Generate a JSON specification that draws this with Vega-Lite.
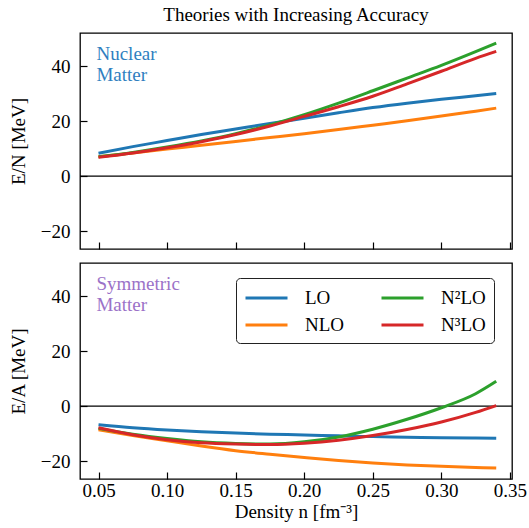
{
  "$schema": "https://vega.github.io/schema/vega-lite/v6.json",
  "background": "white",
  "padding": {"left": 8, "top": 5, "right": 10, "bottom": 5},
  "spacing": 11,
  "config": {
    "font": "Liberation Serif",
    "view": {"stroke": "black", "strokeWidth": 1.3},
    "axis": {"labelFont": "Liberation Serif", "titleFont": "Liberation Serif", "labelFontSize": 19, "titleFontSize": 19, "titleFontWeight": "normal", "labelColor": "black", "titleColor": "black", "tickColor": "black", "tickWidth": 1.2, "grid": false, "domain": false},
    "legend": {"labelFont": "Liberation Serif"},
    "title": {"font": "Liberation Serif"},
    "text": {"font": "Liberation Serif"}
  },
  "datasets": {
    "neutron": [
      {"n": 0.05, "model": "LO", "E": 8.3}, {"n": 0.075, "model": "LO", "E": 10.7}, {"n": 0.1, "model": "LO", "E": 12.9}, {"n": 0.125, "model": "LO", "E": 15.1}, {"n": 0.15, "model": "LO", "E": 17.1}, {"n": 0.175, "model": "LO", "E": 19.1}, {"n": 0.2, "model": "LO", "E": 21.0}, {"n": 0.225, "model": "LO", "E": 23.0}, {"n": 0.25, "model": "LO", "E": 24.9}, {"n": 0.275, "model": "LO", "E": 26.5}, {"n": 0.3, "model": "LO", "E": 27.9}, {"n": 0.325, "model": "LO", "E": 29.2}, {"n": 0.34, "model": "LO", "E": 30.0},
      {"n": 0.05, "model": "NLO", "E": 7.0}, {"n": 0.075, "model": "NLO", "E": 8.4}, {"n": 0.1, "model": "NLO", "E": 9.8}, {"n": 0.125, "model": "NLO", "E": 11.2}, {"n": 0.15, "model": "NLO", "E": 12.6}, {"n": 0.175, "model": "NLO", "E": 14.0}, {"n": 0.2, "model": "NLO", "E": 15.4}, {"n": 0.225, "model": "NLO", "E": 16.9}, {"n": 0.25, "model": "NLO", "E": 18.5}, {"n": 0.275, "model": "NLO", "E": 20.1}, {"n": 0.3, "model": "NLO", "E": 21.8}, {"n": 0.325, "model": "NLO", "E": 23.6}, {"n": 0.34, "model": "NLO", "E": 24.7},
      {"n": 0.05, "model": "N²LO", "E": 7.0}, {"n": 0.075, "model": "N²LO", "E": 8.6}, {"n": 0.1, "model": "N²LO", "E": 10.6}, {"n": 0.125, "model": "N²LO", "E": 12.8}, {"n": 0.15, "model": "N²LO", "E": 15.4}, {"n": 0.175, "model": "N²LO", "E": 18.6}, {"n": 0.2, "model": "N²LO", "E": 22.3}, {"n": 0.225, "model": "N²LO", "E": 26.5}, {"n": 0.25, "model": "N²LO", "E": 31.0}, {"n": 0.275, "model": "N²LO", "E": 35.6}, {"n": 0.3, "model": "N²LO", "E": 40.2}, {"n": 0.325, "model": "N²LO", "E": 45.2}, {"n": 0.34, "model": "N²LO", "E": 48.3},
      {"n": 0.05, "model": "N³LO", "E": 6.8}, {"n": 0.075, "model": "N³LO", "E": 8.4}, {"n": 0.1, "model": "N³LO", "E": 10.3}, {"n": 0.125, "model": "N³LO", "E": 12.5}, {"n": 0.15, "model": "N³LO", "E": 15.1}, {"n": 0.175, "model": "N³LO", "E": 18.2}, {"n": 0.2, "model": "N³LO", "E": 21.7}, {"n": 0.225, "model": "N³LO", "E": 25.2}, {"n": 0.25, "model": "N³LO", "E": 29.0}, {"n": 0.275, "model": "N³LO", "E": 33.5}, {"n": 0.3, "model": "N³LO", "E": 38.1}, {"n": 0.325, "model": "N³LO", "E": 42.8}, {"n": 0.34, "model": "N³LO", "E": 45.3}
    ],
    "symmetric": [
      {"n": 0.05, "model": "LO", "E": -6.8}, {"n": 0.075, "model": "LO", "E": -7.9}, {"n": 0.1, "model": "LO", "E": -8.7}, {"n": 0.125, "model": "LO", "E": -9.3}, {"n": 0.15, "model": "LO", "E": -9.8}, {"n": 0.175, "model": "LO", "E": -10.2}, {"n": 0.2, "model": "LO", "E": -10.5}, {"n": 0.225, "model": "LO", "E": -10.8}, {"n": 0.25, "model": "LO", "E": -11.1}, {"n": 0.275, "model": "LO", "E": -11.3}, {"n": 0.3, "model": "LO", "E": -11.5}, {"n": 0.325, "model": "LO", "E": -11.6}, {"n": 0.34, "model": "LO", "E": -11.7},
      {"n": 0.05, "model": "NLO", "E": -8.6}, {"n": 0.075, "model": "NLO", "E": -10.7}, {"n": 0.1, "model": "NLO", "E": -12.6}, {"n": 0.125, "model": "NLO", "E": -14.5}, {"n": 0.15, "model": "NLO", "E": -16.2}, {"n": 0.175, "model": "NLO", "E": -17.5}, {"n": 0.2, "model": "NLO", "E": -18.7}, {"n": 0.225, "model": "NLO", "E": -19.8}, {"n": 0.25, "model": "NLO", "E": -20.7}, {"n": 0.275, "model": "NLO", "E": -21.4}, {"n": 0.3, "model": "NLO", "E": -21.9}, {"n": 0.325, "model": "NLO", "E": -22.3}, {"n": 0.34, "model": "NLO", "E": -22.5},
      {"n": 0.05, "model": "N²LO", "E": -8.1}, {"n": 0.075, "model": "N²LO", "E": -10.2}, {"n": 0.1, "model": "N²LO", "E": -11.8}, {"n": 0.125, "model": "N²LO", "E": -13.0}, {"n": 0.15, "model": "N²LO", "E": -13.6}, {"n": 0.175, "model": "N²LO", "E": -13.8}, {"n": 0.2, "model": "N²LO", "E": -13.0}, {"n": 0.225, "model": "N²LO", "E": -11.2}, {"n": 0.25, "model": "N²LO", "E": -8.4}, {"n": 0.275, "model": "N²LO", "E": -4.8}, {"n": 0.3, "model": "N²LO", "E": -0.6}, {"n": 0.325, "model": "N²LO", "E": 4.5}, {"n": 0.34, "model": "N²LO", "E": 9.0},
      {"n": 0.05, "model": "N³LO", "E": -7.9}, {"n": 0.075, "model": "N³LO", "E": -10.4}, {"n": 0.1, "model": "N³LO", "E": -12.2}, {"n": 0.125, "model": "N³LO", "E": -13.3}, {"n": 0.15, "model": "N³LO", "E": -13.8}, {"n": 0.175, "model": "N³LO", "E": -14.0}, {"n": 0.2, "model": "N³LO", "E": -13.5}, {"n": 0.225, "model": "N³LO", "E": -12.4}, {"n": 0.25, "model": "N³LO", "E": -10.7}, {"n": 0.275, "model": "N³LO", "E": -8.5}, {"n": 0.3, "model": "N³LO", "E": -5.8}, {"n": 0.325, "model": "N³LO", "E": -2.3}, {"n": 0.34, "model": "N³LO", "E": 0.2}
    ]
  },
  "resolve": {"scale": {"color": "independent"}, "legend": {"color": "independent"}},
  "vconcat": [
    {
      "width": 432,
      "height": 216,
      "title": {"text": "Theories with Increasing Accuracy", "frame": "group", "anchor": "middle", "font": "Liberation Serif", "fontSize": 19, "fontWeight": "normal", "offset": 8, "color": "black"},
      "layer": [
        {
          "data": {"values": [{"E": 0}]},
          "mark": {"type": "rule", "color": "black", "strokeWidth": 1.3},
          "encoding": {
            "y": {"field": "E", "type": "quantitative", "scale": {"domain": [-26.5, 52], "nice": false, "zero": false}, "axis": {"values": [-20, 0, 20, 40], "title": "E/N [MeV]", "labelFont": "Liberation Serif", "titleFont": "Liberation Serif", "tickSize": -7, "labelPadding": 17, "titlePadding": 12}}
          }
        },
        {
          "data": {"name": "neutron"},
          "mark": {"type": "line", "interpolate": "monotone", "strokeWidth": 3},
          "encoding": {
            "x": {"field": "n", "type": "quantitative", "scale": {"domain": [0.0365, 0.3515], "nice": false, "zero": false}, "axis": {"values": [0.05, 0.1, 0.15, 0.2, 0.25, 0.3, 0.35], "labels": false, "title": null, "tickSize": -7}},
            "y": {"field": "E", "type": "quantitative", "scale": {"domain": [-26.5, 52], "nice": false, "zero": false}, "axis": {"values": [-20, 0, 20, 40], "title": "E/N [MeV]", "labelFont": "Liberation Serif", "titleFont": "Liberation Serif", "tickSize": -7, "labelPadding": 17, "titlePadding": 12}},
            "color": {"field": "model", "type": "nominal", "scale": {"domain": ["LO", "NLO", "N²LO", "N³LO"], "range": ["#1f77b4", "#ff7f0e", "#2ca02c", "#d62728"]}, "legend": null}
          }
        },
        {
          "data": {"values": [{"n": 0.0485, "E": 42.2, "t": "Nuclear"}, {"n": 0.0485, "E": 34.5, "t": "Matter"}]},
          "mark": {"type": "text", "align": "left", "baseline": "alphabetic", "color": "#2f7fc0", "font": "Liberation Serif", "fontSize": 19},
          "encoding": {
            "x": {"field": "n", "type": "quantitative"},
            "y": {"field": "E", "type": "quantitative"},
            "text": {"field": "t"}
          }
        }
      ]
    },
    {
      "width": 432,
      "height": 216,
      "layer": [
        {
          "data": {"values": [{"E": 0}]},
          "mark": {"type": "rule", "color": "black", "strokeWidth": 1.3},
          "encoding": {
            "y": {"field": "E", "type": "quantitative", "scale": {"domain": [-26.5, 52], "nice": false, "zero": false}, "axis": {"values": [-20, 0, 20, 40], "title": "E/A [MeV]", "labelFont": "Liberation Serif", "titleFont": "Liberation Serif", "tickSize": -7, "labelPadding": 17, "titlePadding": 12}}
          }
        },
        {
          "data": {"name": "symmetric"},
          "mark": {"type": "line", "interpolate": "monotone", "strokeWidth": 3},
          "encoding": {
            "x": {"field": "n", "type": "quantitative", "scale": {"domain": [0.0365, 0.3515], "nice": false, "zero": false}, "axis": {"values": [0.05, 0.1, 0.15, 0.2, 0.25, 0.3, 0.35], "format": ".2f", "title": "Density n [fm⁻³]", "labelFont": "Liberation Serif", "titleFont": "Liberation Serif", "tickSize": -7, "labelPadding": 9, "titlePadding": 2}},
            "y": {"field": "E", "type": "quantitative", "scale": {"domain": [-26.5, 52], "nice": false, "zero": false}, "axis": {"values": [-20, 0, 20, 40], "title": "E/A [MeV]", "labelFont": "Liberation Serif", "titleFont": "Liberation Serif", "tickSize": -7, "labelPadding": 17, "titlePadding": 12}},
            "color": {"field": "model", "type": "nominal", "scale": {"domain": ["LO", "NLO", "N²LO", "N³LO"], "range": ["#1f77b4", "#ff7f0e", "#2ca02c", "#d62728"]},
              "legend": {"orient": "none", "legendX": 156, "legendY": 15, "columns": 2, "title": null, "symbolType": "M-1,0H3", "symbolStrokeWidth": 3, "symbolSize": 441, "labelFontSize": 19, "labelFont": "Liberation Serif", "labelColor": "black", "strokeColor": "#222", "fillColor": "white", "padding": 8, "cornerRadius": 4, "columnPadding": 30, "rowPadding": 5, "labelOffset": 37}}
          }
        },
        {
          "data": {"values": [{"n": 0.0485, "E": 42.2, "t": "Symmetric"}, {"n": 0.0485, "E": 34.5, "t": "Matter"}]},
          "mark": {"type": "text", "align": "left", "baseline": "alphabetic", "color": "#9b72c8", "font": "Liberation Serif", "fontSize": 19},
          "encoding": {
            "x": {"field": "n", "type": "quantitative"},
            "y": {"field": "E", "type": "quantitative"},
            "text": {"field": "t"}
          }
        }
      ]
    }
  ]
}
